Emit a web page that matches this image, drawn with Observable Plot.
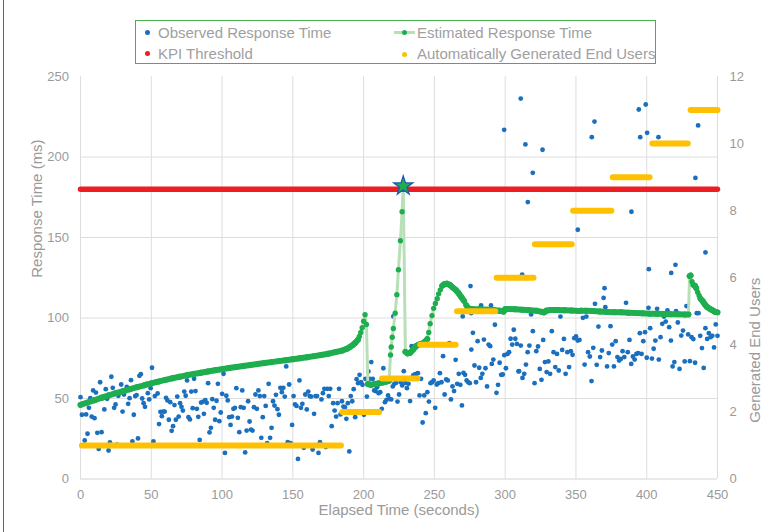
<!DOCTYPE html>
<html><head><meta charset="utf-8">
<script src="https://cdn.jsdelivr.net/npm/d3@7"></script>
<script src="https://cdn.jsdelivr.net/npm/@observablehq/plot@0.6"></script>
<style>
body{margin:0;background:#fff;font-family:"Liberation Sans",Arial,sans-serif;}
#wrap{position:relative;width:782px;height:532px;overflow:hidden;background:#fff;}
#edge{position:absolute;left:3px;top:0;width:1px;height:532px;background:#666;}
#legend{position:absolute;left:135px;top:20px;width:521px;height:44px;border:1px solid #48b04f;box-sizing:border-box;}
.lt{position:absolute;font-size:15px;line-height:17px;color:#a0a0a0;white-space:nowrap;}
.ld{position:absolute;width:5px;height:5px;border-radius:50%;}
.ll{position:absolute;height:3px;background:#b9dfb9;}
</style></head>
<body><div id="wrap">
<div id="chart"></div>
<div id="edge"></div>
<div id="legend"></div>
<div class="ld" style="left:145px;top:30px;background:#1a6fbe"></div>
<div class="lt" style="left:158px;top:24px">Observed Response Time</div>
<div class="ll" style="left:394px;top:31px;width:21px"></div>
<div class="ld" style="left:402px;top:30px;background:#1fae4f"></div>
<div class="lt" style="left:417px;top:24px">Estimated Response Time</div>
<div class="ld" style="left:145px;top:51px;background:#ee1d23"></div>
<div class="lt" style="left:158px;top:45px">KPI Threshold</div>
<div class="ld" style="left:402px;top:51.5px;background:#ffc000"></div>
<div class="lt" style="left:417px;top:45px">Automatically Generated End Users</div>
</div>
<script>
// ---- axes ----
const xTicks = [0,50,100,150,200,250,300,350,400,450];
const yTicks = [0,50,100,150,200,250];
const yGrid = [50,100,150,200];
const uTicks = [0,2,4,6,8,10,12];
const yMax = 250, uMax = 12;

// ---- observed response time (ms), read left to right in four spans ----
const obsSpanStart = [0, 107, 208.4, 309.8];
const obsSpanEnd = [106, 207.5, 309.4, 450];
const obsA = [50.8,39.9,47.1,23.9,40.1,28.1,44.2,50.2,38.8,55.0,37.8,53.7,28.7,18.7,60.1,29.1,50.2,43.2,55.8,49.8,17.7,22.7,63.5,56.6,44.2,46.3,21.4,51.7,53.5,58.7,41.9,52.5,55.0,57.2,46.7,50.2,61.4,23.3,39.9,51.5,52.1,25.2,64.1,65.1,50.0,47.1,44.8,59.1,53.3,49.4,56.4,69.1,23.3,51.5,60.6,53.1,34.1,41.7,39.0,41.9,41.9,50.4,48.8,36.8,47.7,29.9,32.8,45.9,36.8,51.2,38.8,47.1,44.8,42.5,54.3,51.7,61.2,38.4,37.0,54.3,44.0,62.2,54.6,43.6,38.6,24.3,47.5,47.9,40.5,49.0,47.3,59.5,28.9,31.8,49.6,44.2,36.8,48.6,59.1,35.9,41.3,52.9,65.3,16.2,51.7,48.8,38.4,33.6];
const obsB = [38.8,43.6,44.2,56.4,38.0,29.1,44.6,55.0,44.2,16.5,30.1,48.3,35.7,30.7,30.1,44.6,52.5,43.6,55.0,51.5,25.6,38.4,51.5,45.4,22.3,59.1,25.6,31.8,48.3,45.6,52.3,43.4,39.9,56.6,53.9,56.6,51.2,69.9,22.9,58.7,22.3,33.6,51.5,46.3,45.4,12.5,61.2,44.2,46.7,19.4,52.5,43.2,54.3,51.5,51.2,18.3,40.5,51.5,51.5,16.2,22.9,49.4,53.3,56.0,19.8,56.0,51.5,56.0,32.8,47.1,42.5,38.8,47.1,56.0,40.1,48.3,45.0,44.6,37.4,47.1,17.1,51.5,48.3,55.8,38.4,62.0,59.5,64.7,60.1,58.5,39.9,62.2,51.2,66.8,62.2,72.6,62.2,55.0];
const obsC = [54.6,57.0,53.3,53.9,43.6,68.8,47.7,49.2,51.9,49.8,49.4,57.5,59.1,59.7,48.1,52.5,60.1,58.1,67.0,59.7,56.4,59.1,48.4,82.5,64.3,64.9,65.3,65.7,51.9,62.2,35.1,51.9,40.9,53.9,48.1,59.5,60.1,61.2,44.2,58.7,59.5,65.7,60.1,76.3,52.5,61.8,61.2,84.4,49.4,57.5,54.6,74.0,59.1,65.3,58.5,45.7,65.9,64.7,61.2,60.1,59.5,80.4,90.8,70.5,60.1,85.6,69.1,62.8,65.3,86.6,68.8,57.5,83.5,82.5,71.5,74.2,95.8,53.5,58.5,72.2,64.7,64.9,76.9,68.8,77.7,78.8,87.1,83.5,92.7,87.1,83.9,66.8];
const obsD = [67.0,82.9,62.8,65.3,71.1,78.8,82.9,102.2,91.8,59.5,79.4,82.3,68.4,61.6,86.4,72.6,66.4,73.0,65.3,91.8,78.8,69.5,77.7,67.4,100.9,80.2,87.0,65.3,78.8,69.5,79.4,77.1,87.5,88.5,86.0,86.4,105.1,100.1,71.1,100.9,78.8,76.1,60.8,81.5,108.8,70.9,94.7,75.7,79.8,112.5,106.7,69.9,78.2,94.9,83.5,69.9,85.6,75.7,73.6,74.6,79.4,75.7,109.4,78.8,86.4,71.5,76.1,74.2,77.7,78.2,90.6,77.7,85.6,91.2,75.3,106.3,93.7,74.8,80.9,86.0,105.7,74.2,88.1,96.4,100.9,97.8,104.7,94.3,86.0,69.9,72.6,104.3,97.2,68.4,89.1,92.2,73.0,107.4,89.8,73.2,88.1,86.9,72.2,103.0,103.0,88.9,81.3,69.0,93.7,87.0,90.6,88.1,88.9,81.7,96.0,88.9];
// outliers: [seconds, ms]
const obsExtra = [[221,101],[270,101],[275.5,119.8],[276,103],[283,107.8],[290,107.8],[299.3,216.9],[311,236.3],[312,127],[314.3,207.8],[316,172],[319.5,190.2],[326.4,204.5],[351.3,154.8],[361.2,212.3],[363.1,222],[370.2,118.5],[389.2,166],[394.4,229.5],[395.4,212.3],[399.3,232.6],[400.3,215],[401.5,130.3],[408.3,212.3],[417.3,128],[420.3,133],[434.4,187],[436.3,219.6],[441.5,140.7]];

// ---- estimated response time (ms) ----
const estT = [0,5,10,15,20,25,30,35,40,45,50,55,60,65,70,75,80,85,90,95,100,105,110,115,120,125,130,135,140,145,150,155,160,165,170,175,180,185,188,190,192,194,196,197,198,199,200,201,202,203,205,208,211,214,216,218,219,219.5,220.2,221,222.3,223.5,224.6,226,227.2,228,229.5,231,233,235,237,239,241,243,245,246,247,248.3,249.5,250.7,252,253,254.2,255.5,257,259,261,263,265,267,269,271,272.5,274,277,282,287,292,296,299,300,302,307,312,317,322,326,327.5,329,332,337,342,347,352,357,362,367,372,377,382,387,392,397,402,407,412,417,422,427,429.5,430.3,431,432,433,434,435,436,437,438,439.5,441,442.5,444,446,448,450];
const estV = [46,47.5,49,50.5,52,53.3,54.5,55.8,57,58.2,59.4,60.5,61.6,62.6,63.5,64.4,65.2,66,66.8,67.5,68.2,68.9,69.6,70.2,70.8,71.4,72,72.6,73.2,73.8,74.4,75,75.6,76.3,77,77.8,78.8,79.8,80.8,81.8,83,84.5,86.5,88.5,91,94,98,102,96,59,58.5,59,59.5,60,60.5,61,77,82,88,93.5,103,114.5,130,148,166,182,79,78,78.5,80.5,82.5,83.5,84,85,87,91,96.5,101.5,106,109,112,115,117.5,120,121,121.3,120.5,119,117.5,115.5,113,110.5,108,106,105.5,105.5,105.2,105,104.5,104,105.5,105.6,105.4,105.1,104.8,104.5,103.8,103.5,104.5,105,105,104.8,104.6,104.4,104.5,104.3,104,103.8,103.6,103.5,103.3,103.1,102.9,102.7,102.6,102.5,102.4,102.3,102.2,102.2,126,126.5,122.5,120.5,120,118.5,116,114,112,110.5,108.5,107,106,105,104,103.5];
const starT = [228], starV = [182];

// ---- KPI threshold ----
const kpiValue = 180;
const kpiSpan = [0, 450];

// ---- automatically generated end users (right axis) ----
const userLevels = [1,2,3,4,5,6,7,8,9,10,11];
const userStart = [1,185,213,240,266,294,321,348,376,404,431];
const userEnd = [184,211,238,265,293,320,347,375,402,429,450];

// ---- build data ----
const k = yMax / uMax;
const obs = [];
[obsA, obsB, obsC, obsD].forEach((vals, s) => {
  const n = vals.length, t0 = obsSpanStart[s], t1 = obsSpanEnd[s];
  vals.forEach((v, i) => obs.push({t: t0 + (t1 - t0) * i / (n - 1), v}));
});
obsExtra.forEach(([t, v]) => obs.push({t, v}));
const est = estT.map((t, i) => ({t, v: estV[i]}));
const estSegs = est.slice(1).map((d, i) => {
  const a = est[i];
  return {t1: a.t, v1: a.v, t2: d.t, v2: d.v, steep: Math.abs((d.v - a.v) / (d.t - a.t)) > 1.6};
});
const users = userLevels.map((u, i) => ({u: u * k, t1: userStart[i], t2: userEnd[i]}));
const star = starT.map((t, i) => ({t, v: starV[i]}));

const grey = "#9a9a9a";
const plot = Plot.plot({
  width: 782, height: 532,
  marginLeft: 80, marginRight: 65, marginTop: 76, marginBottom: 53.5,
  style: {fontFamily: '"Liberation Sans", Arial, sans-serif', fontSize: "13px", background: "transparent"},
  x: {domain: [0, 450]},
  y: {domain: [0, yMax]},
  marks: [
    Plot.gridX(xTicks, {stroke: "#dedede", strokeOpacity: 1}),
    Plot.gridY(yGrid, {stroke: "#dedede", strokeOpacity: 1}),
    Plot.ruleY([0], {stroke: "#d4d4d4"}),
    Plot.axisX({ticks: xTicks, tickSize: 0, tickPadding: 11, fill: grey, label: null}),
    Plot.axisY({ticks: yTicks, tickSize: 0, tickPadding: 11.5, fill: grey, label: null, anchor: "left"}),
    Plot.axisY(uTicks.map(u => u * k), {anchor: "right", tickSize: 0, tickPadding: 12, fill: grey, label: null, tickFormat: d => String(Math.round(d / k)), textAnchor: "start"}),
    Plot.text(["Elapsed Time (seconds)"], {frameAnchor: "bottom", dy: 36, fontSize: 15, fill: grey}),
    Plot.text(["Response Time (ms)"], {frameAnchor: "left", dx: -43, rotate: -90, fontSize: 15, fill: grey}),
    Plot.text(["Generated End Users"], {frameAnchor: "right", dx: 38, rotate: -90, fontSize: 15, fill: grey}),
    Plot.dot(obs, {x: "t", y: "v", r: 2.4, fill: "#1a6fbe"}),
    Plot.link(estSegs.filter(d => d.steep), {x1: "t1", y1: "v1", x2: "t2", y2: "v2", stroke: "#b9dfb9", strokeWidth: 3}),
    Plot.link(estSegs.filter(d => !d.steep), {x1: "t1", y1: "v1", x2: "t2", y2: "v2", stroke: "#1fae4f", strokeWidth: 6, strokeLinecap: "round"}),
    Plot.dot(est, {x: "t", y: "v", r: 2.7, fill: "#1fae4f"}),
    Plot.line(kpiSpan, {x: d => d, y: () => kpiValue, stroke: "#ee1d23", strokeWidth: 5.5, strokeLinecap: "round"}),
    Plot.link(users, {x1: "t1", x2: "t2", y1: "u", y2: "u", stroke: "#ffc000", strokeWidth: 6, strokeLinecap: "round"}),
    Plot.dot(star, {x: "t", y: "v", symbol: "star", r: 6, fill: "#1fae4f", stroke: "#1b5ea8", strokeWidth: 1.3})
  ]
});
document.getElementById("chart").appendChild(plot);
</script>
</body></html>
